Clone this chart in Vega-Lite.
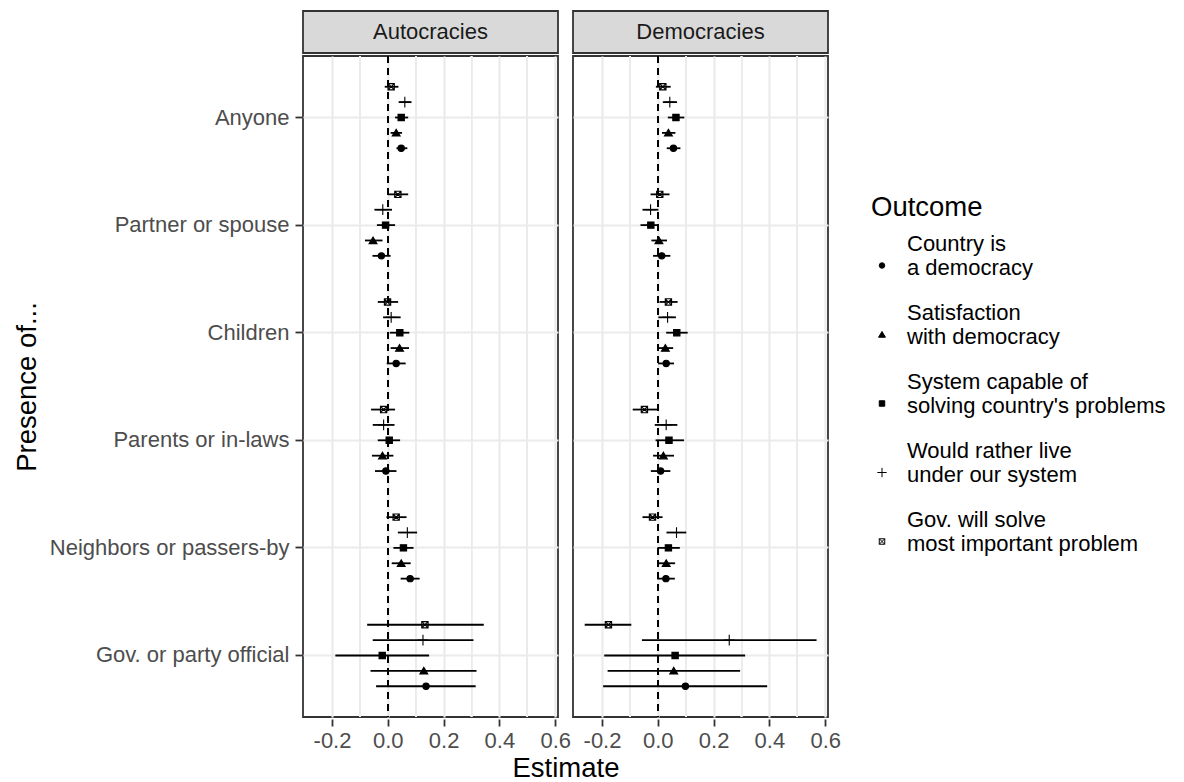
{
  "$schema": "https://vega.github.io/schema/vega-lite/v6.json",
  "padding": {"left": 13, "top": 10, "right": 0, "bottom": 0},
  "background": "white",
  "spacing": 0,
  "config": {
    "font": "Liberation Sans",
    "view": {"stroke": "#333333", "strokeWidth": 1.8},
    "axis": {
      "labelFont": "Liberation Sans", "titleFont": "Liberation Sans",
      "labelFontSize": 22, "labelColor": "#4D4D4D", "labelLimit": 400,
      "titleFontSize": 27.5, "titleColor": "black", "titleFontWeight": "normal",
      "tickColor": "#333333", "tickWidth": 1.8, "tickSize": 7,
      "gridColor": "#EBEBEB", "gridWidth": 2.2, "domain": false
    },
    "legend": {
      "titleFontSize": 27.5, "titleFontWeight": "normal", "titleColor": "black", "titleFont": "Liberation Sans",
      "labelFontSize": 22, "labelColor": "black", "labelFont": "Liberation Sans", "labelLimit": 500,
      "symbolStrokeColor": "black", "symbolStrokeWidth": 1, "symbolSize": 30,
      "rowPadding": 23, "titlePadding": 33, "labelOffset": 14, "padding": 0
    }
  },
  "datasets": {
    "est": [
      {"panel": "Autocracies", "who": "Anyone", "outcome": "Gov. will solve\nmost important problem", "est": 0.012, "lo": -0.011, "hi": 0.038},
      {"panel": "Autocracies", "who": "Anyone", "outcome": "Would rather live\nunder our system", "est": 0.061, "lo": 0.039, "hi": 0.085},
      {"panel": "Autocracies", "who": "Anyone", "outcome": "System capable of\n\u00a0solving country's problems", "est": 0.048, "lo": 0.026, "hi": 0.073},
      {"panel": "Autocracies", "who": "Anyone", "outcome": "Satisfaction\nwith democracy", "est": 0.030, "lo": 0.010, "hi": 0.051},
      {"panel": "Autocracies", "who": "Anyone", "outcome": "Country is\na democracy", "est": 0.048, "lo": 0.031, "hi": 0.070},
      {"panel": "Autocracies", "who": "Partner or spouse", "outcome": "Gov. will solve\nmost important problem", "est": 0.036, "lo": 0.001, "hi": 0.073},
      {"panel": "Autocracies", "who": "Partner or spouse", "outcome": "Would rather live\nunder our system", "est": -0.018, "lo": -0.048, "hi": 0.015},
      {"panel": "Autocracies", "who": "Partner or spouse", "outcome": "System capable of\n\u00a0solving country's problems", "est": -0.008, "lo": -0.039, "hi": 0.026},
      {"panel": "Autocracies", "who": "Partner or spouse", "outcome": "Satisfaction\nwith democracy", "est": -0.053, "lo": -0.082, "hi": -0.019},
      {"panel": "Autocracies", "who": "Partner or spouse", "outcome": "Country is\na democracy", "est": -0.023, "lo": -0.055, "hi": 0.010},
      {"panel": "Autocracies", "who": "Children", "outcome": "Gov. will solve\nmost important problem", "est": -0.001, "lo": -0.036, "hi": 0.037},
      {"panel": "Autocracies", "who": "Children", "outcome": "Would rather live\nunder our system", "est": 0.012, "lo": -0.017, "hi": 0.046},
      {"panel": "Autocracies", "who": "Children", "outcome": "System capable of\n\u00a0solving country's problems", "est": 0.043, "lo": 0.007, "hi": 0.077},
      {"panel": "Autocracies", "who": "Children", "outcome": "Satisfaction\nwith democracy", "est": 0.042, "lo": 0.010, "hi": 0.076},
      {"panel": "Autocracies", "who": "Children", "outcome": "Country is\na democracy", "est": 0.030, "lo": -0.004, "hi": 0.064},
      {"panel": "Autocracies", "who": "Parents or in-laws", "outcome": "Gov. will solve\nmost important problem", "est": -0.015, "lo": -0.060, "hi": 0.026},
      {"panel": "Autocracies", "who": "Parents or in-laws", "outcome": "Would rather live\nunder our system", "est": -0.015, "lo": -0.054, "hi": 0.024},
      {"panel": "Autocracies", "who": "Parents or in-laws", "outcome": "System capable of\n\u00a0solving country's problems", "est": 0.005, "lo": -0.036, "hi": 0.044},
      {"panel": "Autocracies", "who": "Parents or in-laws", "outcome": "Satisfaction\nwith democracy", "est": -0.019, "lo": -0.057, "hi": 0.020},
      {"panel": "Autocracies", "who": "Parents or in-laws", "outcome": "Country is\na democracy", "est": -0.007, "lo": -0.046, "hi": 0.031},
      {"panel": "Autocracies", "who": "Neighbors or passers-by", "outcome": "Gov. will solve\nmost important problem", "est": 0.030, "lo": -0.005, "hi": 0.067},
      {"panel": "Autocracies", "who": "Neighbors or passers-by", "outcome": "Would rather live\nunder our system", "est": 0.070, "lo": 0.036, "hi": 0.105},
      {"panel": "Autocracies", "who": "Neighbors or passers-by", "outcome": "System capable of\n\u00a0solving country's problems", "est": 0.056, "lo": 0.020, "hi": 0.092},
      {"panel": "Autocracies", "who": "Neighbors or passers-by", "outcome": "Satisfaction\nwith democracy", "est": 0.048, "lo": 0.014, "hi": 0.082},
      {"panel": "Autocracies", "who": "Neighbors or passers-by", "outcome": "Country is\na democracy", "est": 0.080, "lo": 0.046, "hi": 0.114},
      {"panel": "Autocracies", "who": "Gov. or party official", "outcome": "Gov. will solve\nmost important problem", "est": 0.133, "lo": -0.074, "hi": 0.344},
      {"panel": "Autocracies", "who": "Gov. or party official", "outcome": "Would rather live\nunder our system", "est": 0.126, "lo": -0.054, "hi": 0.307},
      {"panel": "Autocracies", "who": "Gov. or party official", "outcome": "System capable of\n\u00a0solving country's problems", "est": -0.020, "lo": -0.188, "hi": 0.148},
      {"panel": "Autocracies", "who": "Gov. or party official", "outcome": "Satisfaction\nwith democracy", "est": 0.129, "lo": -0.062, "hi": 0.318},
      {"panel": "Autocracies", "who": "Gov. or party official", "outcome": "Country is\na democracy", "est": 0.137, "lo": -0.042, "hi": 0.315},
      {"panel": "Democracies", "who": "Anyone", "outcome": "Gov. will solve\nmost important problem", "est": 0.018, "lo": -0.007, "hi": 0.046},
      {"panel": "Democracies", "who": "Anyone", "outcome": "Would rather live\nunder our system", "est": 0.043, "lo": 0.018, "hi": 0.069},
      {"panel": "Democracies", "who": "Anyone", "outcome": "System capable of\n\u00a0solving country's problems", "est": 0.065, "lo": 0.036, "hi": 0.095},
      {"panel": "Democracies", "who": "Anyone", "outcome": "Satisfaction\nwith democracy", "est": 0.038, "lo": 0.015, "hi": 0.063},
      {"panel": "Democracies", "who": "Anyone", "outcome": "Country is\na democracy", "est": 0.056, "lo": 0.032, "hi": 0.081},
      {"panel": "Democracies", "who": "Partner or spouse", "outcome": "Gov. will solve\nmost important problem", "est": 0.007, "lo": -0.026, "hi": 0.042},
      {"panel": "Democracies", "who": "Partner or spouse", "outcome": "Would rather live\nunder our system", "est": -0.026, "lo": -0.055, "hi": 0.002},
      {"panel": "Democracies", "who": "Partner or spouse", "outcome": "System capable of\n\u00a0solving country's problems", "est": -0.025, "lo": -0.062, "hi": 0.004},
      {"panel": "Democracies", "who": "Partner or spouse", "outcome": "Satisfaction\nwith democracy", "est": 0.004, "lo": -0.023, "hi": 0.033},
      {"panel": "Democracies", "who": "Partner or spouse", "outcome": "Country is\na democracy", "est": 0.014, "lo": -0.017, "hi": 0.045},
      {"panel": "Democracies", "who": "Children", "outcome": "Gov. will solve\nmost important problem", "est": 0.038, "lo": 0.006, "hi": 0.071},
      {"panel": "Democracies", "who": "Children", "outcome": "Would rather live\nunder our system", "est": 0.035, "lo": 0.002, "hi": 0.065},
      {"panel": "Democracies", "who": "Children", "outcome": "System capable of\n\u00a0solving country's problems", "est": 0.068, "lo": 0.030, "hi": 0.107},
      {"panel": "Democracies", "who": "Children", "outcome": "Satisfaction\nwith democracy", "est": 0.027, "lo": 0.001, "hi": 0.055},
      {"panel": "Democracies", "who": "Children", "outcome": "Country is\na democracy", "est": 0.030, "lo": 0.001, "hi": 0.058},
      {"panel": "Democracies", "who": "Parents or in-laws", "outcome": "Gov. will solve\nmost important problem", "est": -0.048, "lo": -0.090, "hi": -0.001},
      {"panel": "Democracies", "who": "Parents or in-laws", "outcome": "Would rather live\nunder our system", "est": 0.030, "lo": -0.011, "hi": 0.070},
      {"panel": "Democracies", "who": "Parents or in-laws", "outcome": "System capable of\n\u00a0solving country's problems", "est": 0.040, "lo": -0.008, "hi": 0.094},
      {"panel": "Democracies", "who": "Parents or in-laws", "outcome": "Satisfaction\nwith democracy", "est": 0.020, "lo": -0.017, "hi": 0.058},
      {"panel": "Democracies", "who": "Parents or in-laws", "outcome": "Country is\na democracy", "est": 0.010, "lo": -0.025, "hi": 0.045},
      {"panel": "Democracies", "who": "Neighbors or passers-by", "outcome": "Gov. will solve\nmost important problem", "est": -0.019, "lo": -0.055, "hi": 0.017},
      {"panel": "Democracies", "who": "Neighbors or passers-by", "outcome": "Would rather live\nunder our system", "est": 0.067, "lo": 0.031, "hi": 0.102},
      {"panel": "Democracies", "who": "Neighbors or passers-by", "outcome": "System capable of\n\u00a0solving country's problems", "est": 0.038, "lo": -0.001, "hi": 0.079},
      {"panel": "Democracies", "who": "Neighbors or passers-by", "outcome": "Satisfaction\nwith democracy", "est": 0.030, "lo": -0.001, "hi": 0.062},
      {"panel": "Democracies", "who": "Neighbors or passers-by", "outcome": "Country is\na democracy", "est": 0.029, "lo": -0.002, "hi": 0.061},
      {"panel": "Democracies", "who": "Gov. or party official", "outcome": "Gov. will solve\nmost important problem", "est": -0.177, "lo": -0.262, "hi": -0.095},
      {"panel": "Democracies", "who": "Gov. or party official", "outcome": "Would rather live\nunder our system", "est": 0.256, "lo": -0.057, "hi": 0.569},
      {"panel": "Democracies", "who": "Gov. or party official", "outcome": "System capable of\n\u00a0solving country's problems", "est": 0.062, "lo": -0.192, "hi": 0.313},
      {"panel": "Democracies", "who": "Gov. or party official", "outcome": "Satisfaction\nwith democracy", "est": 0.057, "lo": -0.180, "hi": 0.295},
      {"panel": "Democracies", "who": "Gov. or party official", "outcome": "Country is\na democracy", "est": 0.099, "lo": -0.196, "hi": 0.392}
    ]
  },
  "vconcat": [
    {
      "data": {"name": "est"},
      "transform": [{"aggregate": [{"op": "count", "as": "n"}], "groupby": ["panel"]}],
      "facet": {"column": {"field": "panel", "type": "nominal", "header": {"title": null, "labels": false}}},
      "spacing": 13,
      "spec": {
        "width": 255,
        "height": 42,
        "view": {"fill": "#D9D9D9", "stroke": "#333333", "strokeWidth": 1.8},
        "mark": {"type": "text", "fontSize": 22, "color": "#1A1A1A", "font": "Liberation Sans", "baseline": "middle", "align": "center"},
        "encoding": {"text": {"field": "panel", "type": "nominal"}}
      }
    },
    {
      "data": {"name": "est"},
      "facet": {
        "column": {
          "field": "panel", "type": "nominal", "title": "Estimate",
          "header": {"labels": false, "titleOrient": "bottom", "titleFont": "Liberation Sans", "titleFontSize": 27.5, "titleFontWeight": "normal", "titleColor": "black", "titlePadding": -6}
        }
      },
      "spacing": 13,
      "spec": {
        "width": 255,
        "height": 661,
        "layer": [
          {
            "mark": {"type": "rule", "color": "#EBEBEB", "strokeWidth": 1.1},
            "encoding": {"x": {"datum": -0.1, "type": "quantitative"}}
          },
          {
            "mark": {"type": "rule", "color": "#EBEBEB", "strokeWidth": 1.1},
            "encoding": {"x": {"datum": 0.1, "type": "quantitative"}}
          },
          {
            "mark": {"type": "rule", "color": "#EBEBEB", "strokeWidth": 1.1},
            "encoding": {"x": {"datum": 0.3, "type": "quantitative"}}
          },
          {
            "mark": {"type": "rule", "color": "#EBEBEB", "strokeWidth": 1.1},
            "encoding": {"x": {"datum": 0.5, "type": "quantitative"}}
          },
          {
            "mark": {"type": "rule", "color": "black", "strokeDash": [7, 5], "strokeWidth": 1.6},
            "encoding": {"x": {"datum": 0, "type": "quantitative"}}
          },
          {
            "mark": {"type": "rule", "color": "black", "strokeWidth": 1.8},
            "encoding": {
              "x": {"field": "lo", "type": "quantitative"},
              "x2": {"field": "hi"},
              "y": {"field": "who", "type": "nominal"},
              "yOffset": {"field": "outcome", "type": "nominal"}
            }
          },
          {
            "mark": {"type": "point", "stroke": "black", "strokeWidth": 1.1, "opacity": 1, "size": 40},
            "encoding": {
              "x": {
                "field": "est", "type": "quantitative", "title": null,
                "scale": {"domain": [-0.304, 0.61], "nice": false, "zero": false},
                "axis": {
                  "title": null,
                  "values": [-0.2, 0, 0.2, 0.4, 0.6],
                  "labelExpr": "datum.value < -0.001 ? '-' + format(-datum.value, '.1f') : format(abs(datum.value), '.1f')",
                  "grid": true, "labelOverlap": false, "labelFlush": false, "labelPadding": 4
                }
              },
              "y": {
                "field": "who", "type": "nominal", "title": "Presence of...",
                "scale": {"domain": ["Anyone", "Partner or spouse", "Children", "Parents or in-laws", "Neighbors or passers-by", "Gov. or party official"], "paddingInner": 0, "paddingOuter": 0.0716, "align": 0.5},
                "axis": {"grid": true, "bandPosition": 0.5, "labelPadding": 6, "titleX": -267, "titleBaseline": "alphabetic", "labelLimit": 400}
              },
              "yOffset": {
                "field": "outcome", "type": "nominal",
                "scale": {"domain": ["Gov. will solve\nmost important problem", "Would rather live\nunder our system", "System capable of\n\u00a0solving country's problems", "Satisfaction\nwith democracy", "Country is\na democracy"], "paddingInner": 0, "paddingOuter": 2.575}
              },
              "shape": {
                "field": "outcome", "type": "nominal", "title": "Outcome",
                "scale": {
                  "domain": ["Country is\na democracy", "Satisfaction\nwith democracy", "System capable of\n\u00a0solving country's problems", "Would rather live\nunder our system", "Gov. will solve\nmost important problem"],
                  "range": ["circle", "M0,-1.1L1.25,1L-1.25,1Z", "square", "M-1.7,0L1.7,0M0,-1.7L0,1.7", "M-1,-1L1,-1L1,1L-1,1ZM-1,-1L1,1M-1,1L1,-1"]
                },
                "legend": {
                  "orient": "none", "legendX": 568, "legendY": 183,
                  "labelExpr": "split(datum.label, '\\n')", "labelBaseline": "middle",
                  "encoding": {"labels": {"dy": {"value": -22}}, "symbols": {"stroke": {"value": "black"}, "strokeWidth": {"value": 1}}}
                }
              },
              "fill": {
                "field": "outcome", "type": "nominal", "title": "Outcome",
                "scale": {
                  "domain": ["Country is\na democracy", "Satisfaction\nwith democracy", "System capable of\n\u00a0solving country's problems", "Would rather live\nunder our system", "Gov. will solve\nmost important problem"],
                  "range": ["black", "black", "black", "transparent", "transparent"]
                },
                "legend": {
                  "orient": "none", "legendX": 568, "legendY": 183,
                  "labelExpr": "split(datum.label, '\\n')", "labelBaseline": "middle",
                  "encoding": {"labels": {"dy": {"value": -22}}, "symbols": {"stroke": {"value": "black"}, "strokeWidth": {"value": 1}}}
                }
              }
            }
          }
        ]
      }
    }
  ]
}
